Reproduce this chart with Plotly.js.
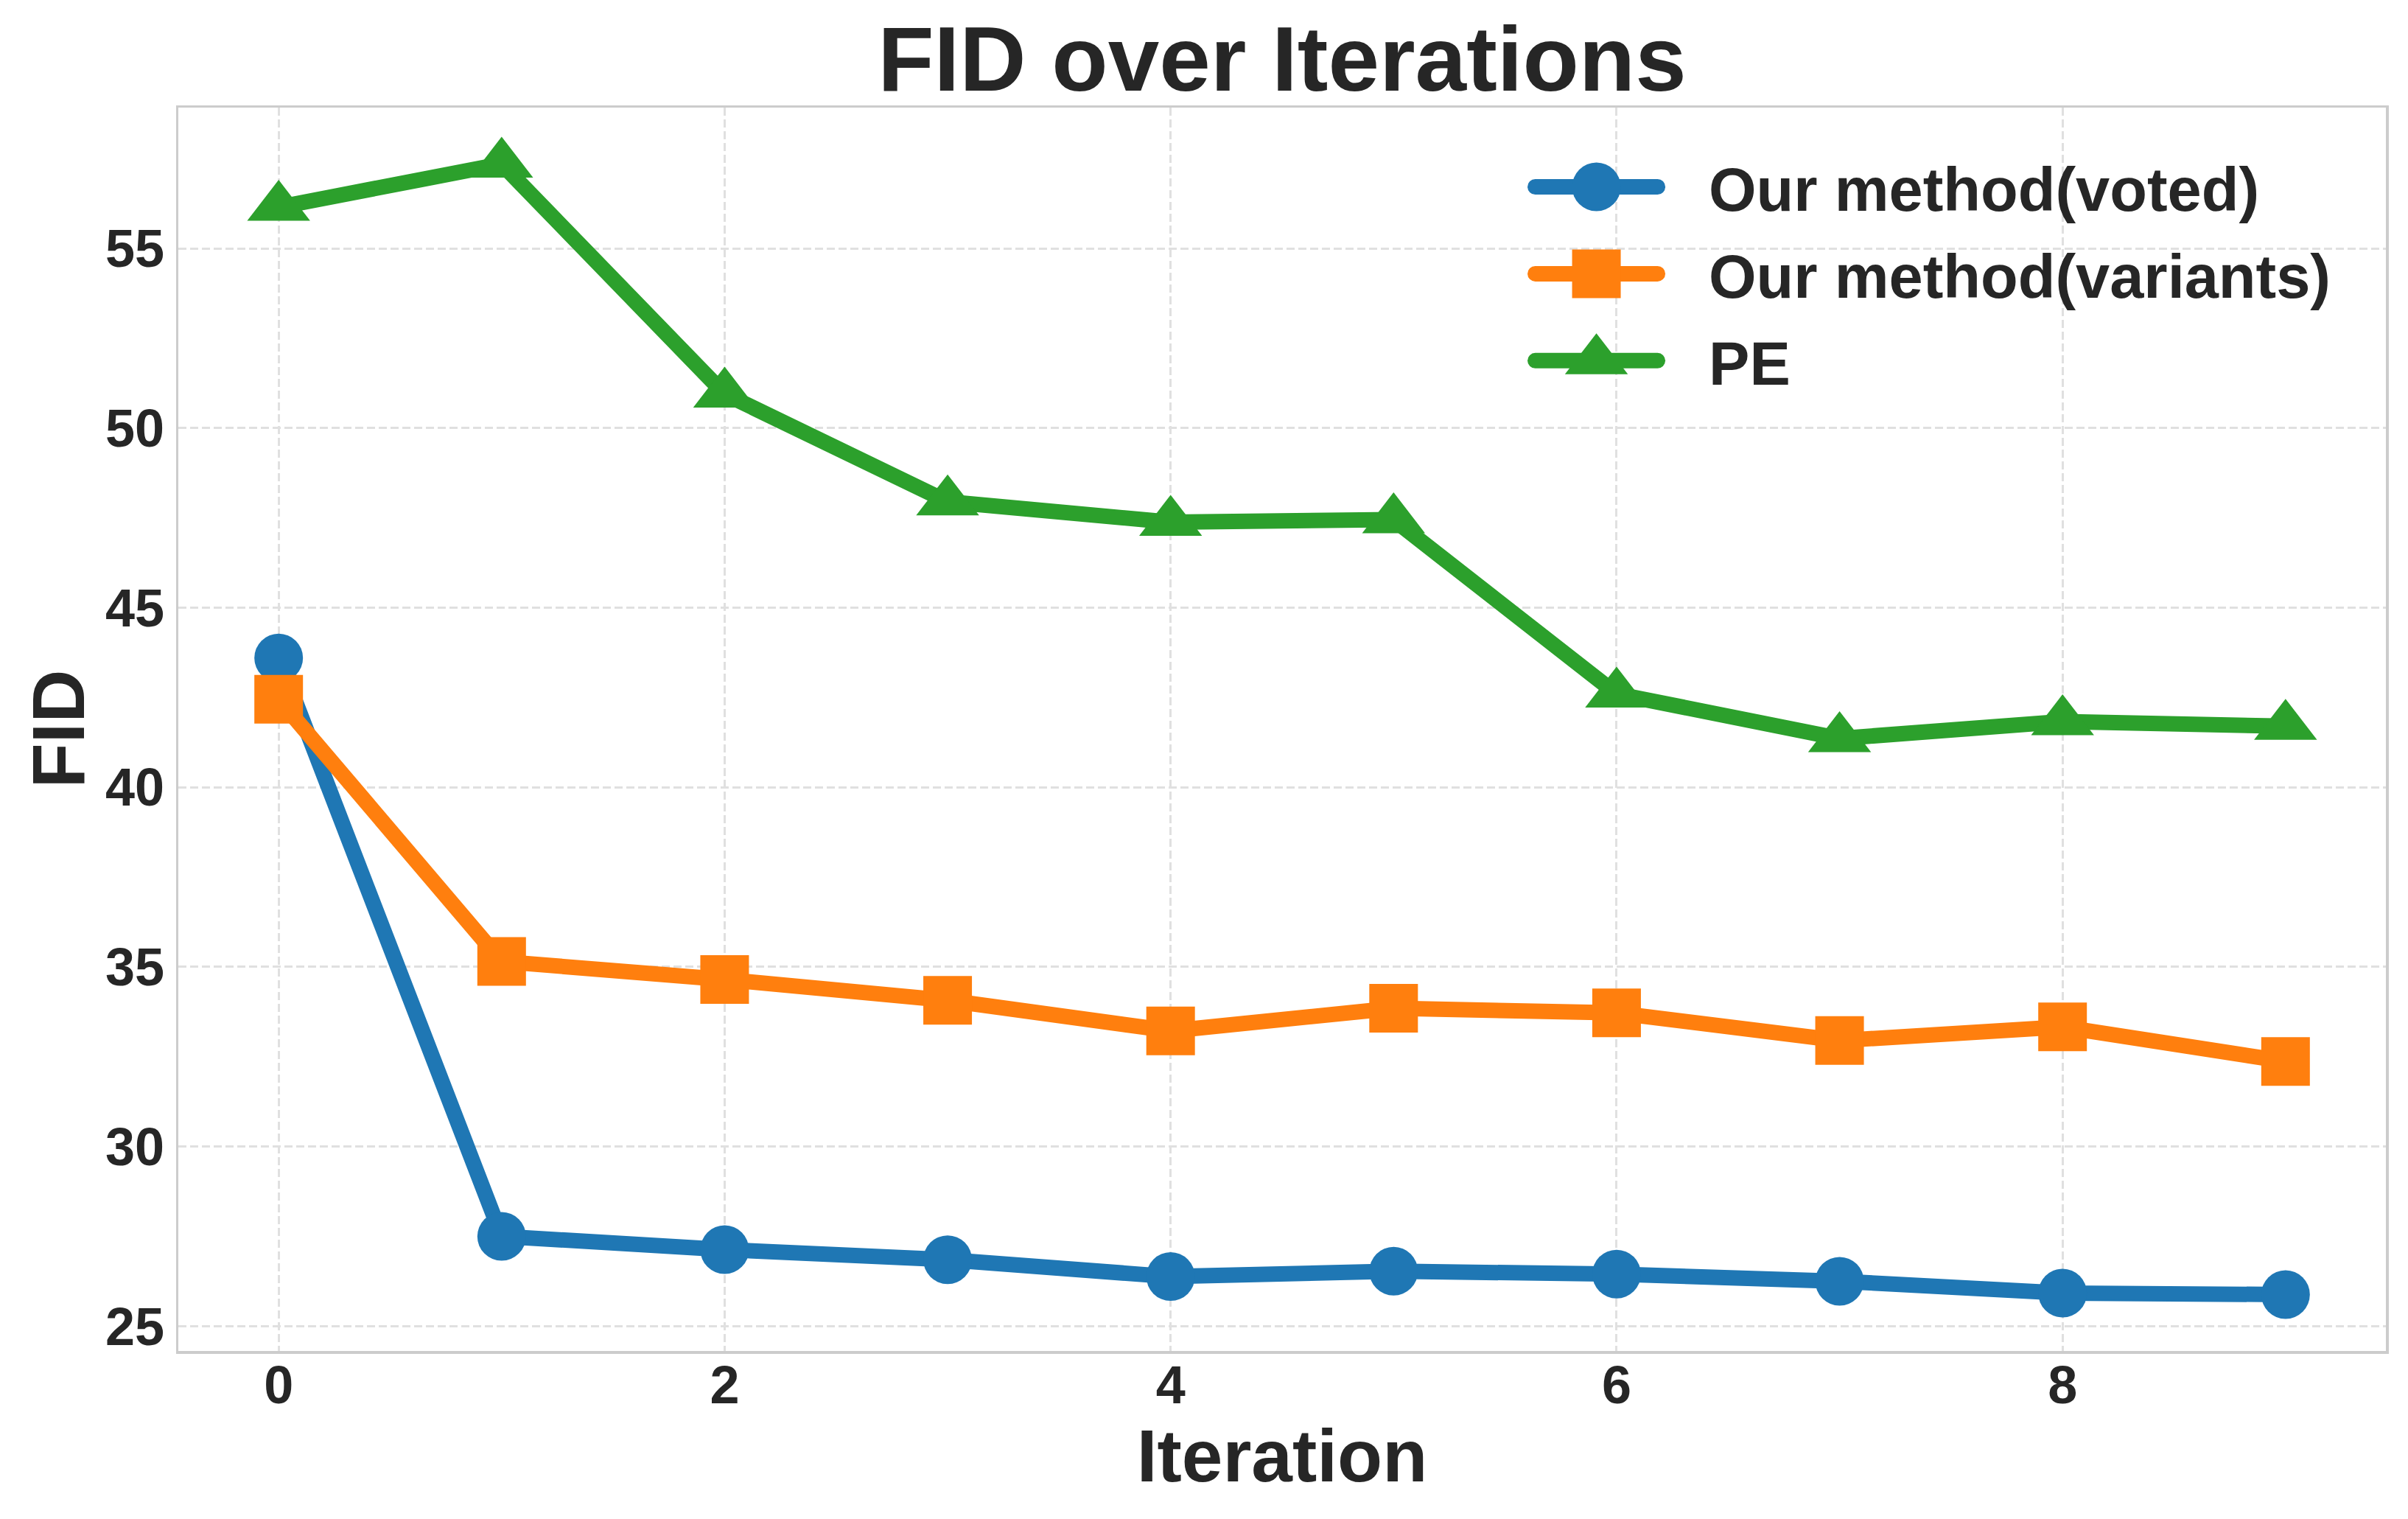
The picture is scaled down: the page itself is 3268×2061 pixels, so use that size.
<!DOCTYPE html>
<html>
<head>
<meta charset="utf-8">
<script src="https://cdn.plot.ly/plotly-3.0.1.min.js"></script>
<style>html,body{margin:0;padding:0;background:#ffffff;}</style>
</head>
<body>
<div id="chart" style="width:3268px;height:2061px;"></div>
<script>
// ---- data ----
const iterations = [0, 1, 2, 3, 4, 5, 6, 7, 8, 9];
const votedFID = [43.6, 27.5, 27.13, 26.85, 26.38, 26.53, 26.45, 26.25, 25.92, 25.88];
const variantsFID = [42.45, 35.15, 34.65, 34.07, 33.22, 33.85, 33.72, 32.95, 33.33, 32.37];
const peFID = [56.15, 57.35, 50.95, 47.95, 47.38, 47.45, 42.6, 41.36, 41.83, 41.7];
const seriesNames = ['Our method(voted)', 'Our method(variants)', 'PE'];
const xTickValues = [0, 2, 4, 6, 8];
const xTickLabels = ['0', '2', '4', '6', '8'];
const yTickValues = [25, 30, 35, 40, 45, 50, 55];
const yTickLabels = ['25', '30', '35', '40', '45', '50', '55'];
const yAxisTitle = 'FID';

// ---- styles ----
const FONT = '"Liberation Sans", Arial, sans-serif';
const TEXT = '#262626';
const colors = ['#1f77b4', '#ff7f0e', '#2ca02c'];
const symbols = ['circle', 'square', 'triangle-up'];
const markerSizes = [66, 66, 74];
const seriesValues = [votedFID, variantsFID, peFID];

const traces = seriesValues.map(function (vals, i) {
  return {
    type: 'scatter',
    mode: 'lines+markers',
    x: iterations,
    y: vals,
    name: seriesNames[i],
    legendgroup: 'g' + i,
    line: {color: colors[i], width: 21},
    marker: {color: colors[i], symbol: symbols[i], size: markerSizes[i], line: {width: 0}}
  };
});

const layout = {
  width: 3268,
  height: 2061,
  margin: {l: 242, r: 30, t: 146, b: 228, pad: 0},
  paper_bgcolor: '#ffffff',
  plot_bgcolor: '#ffffff',
  font: {family: FONT, color: TEXT, weight: 'bold'},
  showlegend: true,
  title: {
    text: 'FID over Iterations',
    font: {family: FONT, size: 125, color: TEXT, weight: 'bold'},
    x: 0.5, xref: 'paper', xanchor: 'center',
    y: 0.9615, yref: 'container', yanchor: 'middle'
  },
  xaxis: {
    range: [-0.45, 9.45],
    tickmode: 'array', tickvals: xTickValues, ticktext: xTickLabels,
    showgrid: true, gridcolor: '#e0e0e0', gridwidth: 3, griddash: '11px,5px',
    zeroline: false, showline: true, linecolor: '#cccccc', linewidth: 3.5, mirror: true,
    ticks: '', automargin: false,
    tickfont: {family: FONT, size: 72, color: TEXT, weight: 'bold'},
    ticklabelstandoff: -19,
    title: {text: 'Iteration', font: {family: FONT, size: 100, color: TEXT, weight: 'bold'}, standoff: 20}
  },
  yaxis: {
    range: [24.31, 58.92],
    tickmode: 'array', tickvals: yTickValues, ticktext: yTickLabels,
    showgrid: true, gridcolor: '#e0e0e0', gridwidth: 3, griddash: '11px,5px',
    zeroline: false, showline: true, linecolor: '#cccccc', linewidth: 3.5, mirror: true,
    ticks: '', automargin: false,
    tickfont: {family: FONT, size: 72, color: TEXT, weight: 'bold'},
    ticklabelstandoff: 1
  },
  annotations: [{
    text: yAxisTitle,
    xref: 'paper', yref: 'paper',
    x: -0.0547, y: 0.5,
    xanchor: 'center', yanchor: 'middle',
    textangle: -90, showarrow: false,
    font: {family: FONT, size: 100, color: TEXT, weight: 'bold'}
  }],
  legend: {
    x: 0.6095, xanchor: 'left', xref: 'paper',
    y: 0.9721, yanchor: 'top', yref: 'paper',
    bgcolor: 'rgba(0,0,0,0)', borderwidth: 0,
    font: {family: FONT, size: 83, color: TEXT, weight: 'bold'},
    itemwidth: 241,
    tracegroupgap: 7,
    traceorder: 'grouped'
  }
};

Plotly.newPlot('chart', traces, layout, {staticPlot: true, responsive: false, displayModeBar: false}).then(function (gd) {
  const legendScale = markerSizes.map(function (s) { return s / 16; });
  const items = gd.querySelectorAll('.legend .traces');
  items.forEach(function (item, i) {
    item.querySelectorAll('.legendlines path').forEach(function (p) {
      p.setAttribute('d', 'M15.5,0h166');
      p.style.strokeWidth = '21px';
      p.style.strokeLinecap = 'round';
    });
    item.querySelectorAll('.legendsymbols path.scatterpts').forEach(function (p) {
      p.setAttribute('transform', 'translate(98.5,0) scale(' + legendScale[i] + ')');
    });
  });
  gd.querySelectorAll('.scatterlayer .js-line').forEach(function (p) {
    p.style.strokeLinejoin = 'round';
  });
});
</script>
</body>
</html>
